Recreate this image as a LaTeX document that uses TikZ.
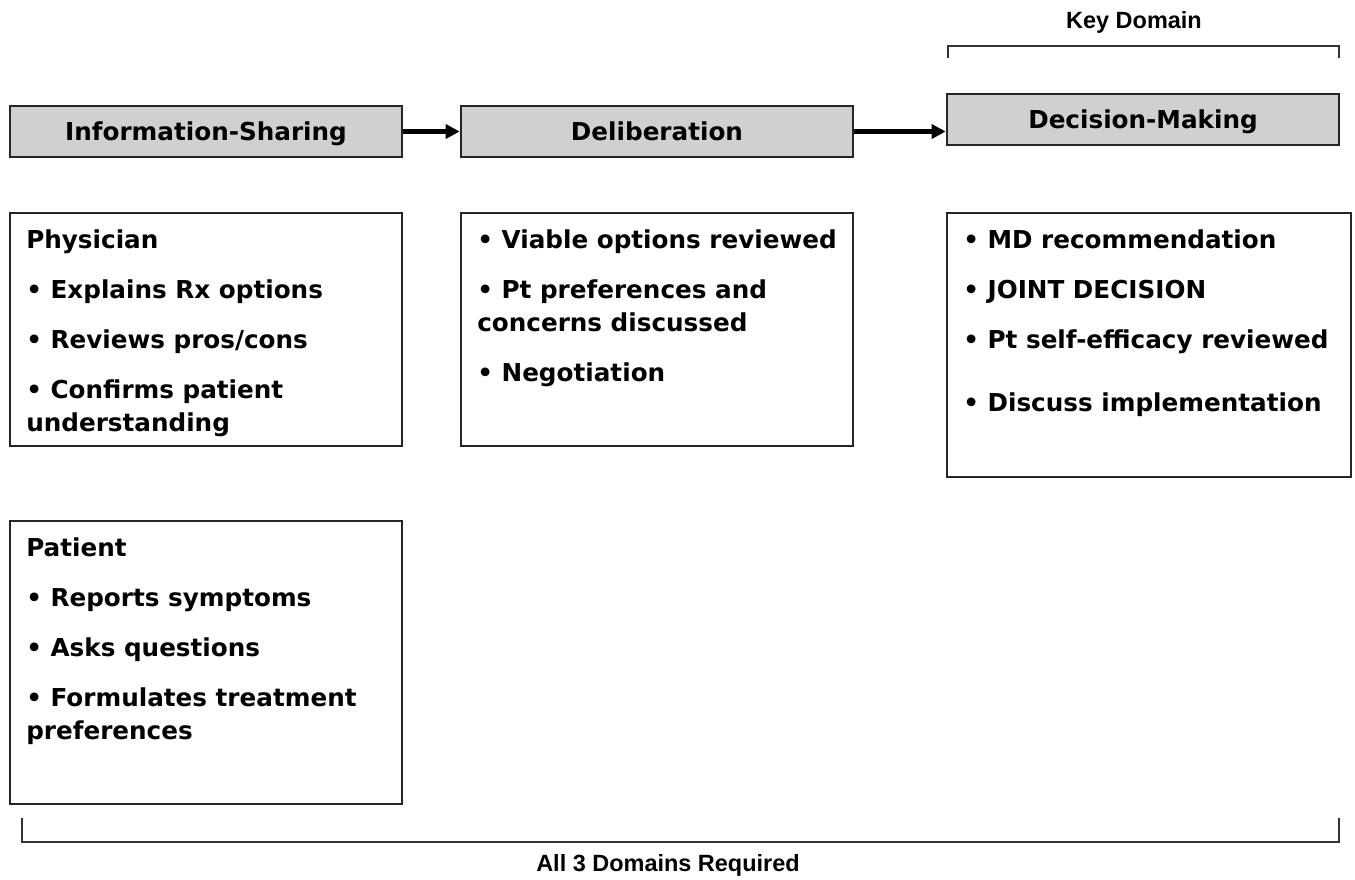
\documentclass[tikz,border=0pt]{standalone}
\usepackage{fontspec}
\setmainfont{DejaVu Sans}
\newfontfamily\arialfont{Liberation Sans}
\usetikzlibrary{arrows.meta,positioning}
\definecolor{headgray}{RGB}{208,208,208}

\begin{document}
\begin{tikzpicture}[x=0.75pt,y=-0.75pt,
  head/.style={draw=black!85,line width=2pt,fill=headgray,rectangle,minimum width=294pt,
               minimum height=38.25pt,inner sep=0pt,text height=14pt,text depth=0pt,
               font=\fontsize{18.5pt}{24.75pt}\selectfont\bfseries},
  panel/.style={draw=black!85,line width=2pt,rectangle,anchor=north west,minimum width=294pt,
                inner sep=0pt,outer sep=0pt},
  body/.style={anchor=north west,align=left,inner sep=0pt,font=\fontsize{18.5pt}{24.75pt}\selectfont\bfseries},
  flow/.style={-{Triangle[length=10.5pt,width=10.5pt]},line width=3.6pt},
  brace/.style={draw=black!80,line width=1.2pt},
  tag/.style={font=\arialfont\fontsize{17.6pt}{20pt}\selectfont\bfseries}
]
  \useasboundingbox (0,0) rectangle (1355,879);
  \def\skipgap{12.75pt}

  % Domain headers
  \foreach \x/\y/\name/\lbl in {206/131.5/info/Information-Sharing, 657/131.5/delib/Deliberation, 1143/119.5/dec/Decision-Making} {
    \node[head] (\name) at (\x,\y) {\lbl};
  }
  \draw[flow] (info) -- (delib);
  \draw[flow] (delib.east) -- (delib.east -| dec.west);

  % Content panels
  \node[panel,minimum height=174.75pt] (phys) at (10,213) {};
  \node[panel,minimum height=174.75pt] (delibBox) at (461,213) {};
  \node[panel,minimum width=303pt,minimum height=198pt] (decBox) at (947,213) {};
  \node[panel,minimum height=212.25pt] (pat) at (10,521) {};

  \node[body,below right=12pt and 12pt of phys.north west] (physTxt)
    {Physician\\[\skipgap]• Explains Rx options\\[\skipgap]• Reviews pros/cons\\[\skipgap]• Confirms patient\\understanding};
  \node[body,below right=12pt and 12pt of delibBox.north west] (delibTxt)
    {• Viable options reviewed\\[\skipgap]• Pt preferences and\\concerns discussed\\[\skipgap]• Negotiation};
  \node[body,below right=12pt and 12pt of decBox.north west] (decTxt)
    {• MD recommendation\\[\skipgap]• JOINT DECISION\\[\skipgap]• Pt self-efficacy reviewed\\[22.5pt]• Discuss implementation};
  \node[body,below right=12pt and 12pt of pat.north west] (patTxt)
    {Patient\\[\skipgap]• Reports symptoms\\[\skipgap]• Asks questions\\[\skipgap]• Formulates treatment\\preferences};

  % Brackets
  \coordinate (keyL) at (948,58);
  \coordinate (keyR) at (1339,58);
  \draw[brace] (keyL) -- ++(0,-12) -| (keyR);
  \node[tag] (keyTag) at (1134,22) {Key Domain};
  \coordinate (allL) at (22,818);
  \coordinate (allR) at (1339,818);
  \draw[brace] (allL) -- ++(0,24) -| (allR);
  \node[tag] (allTag) at (668,865) {All 3 Domains Required};
\end{tikzpicture}
\end{document}
